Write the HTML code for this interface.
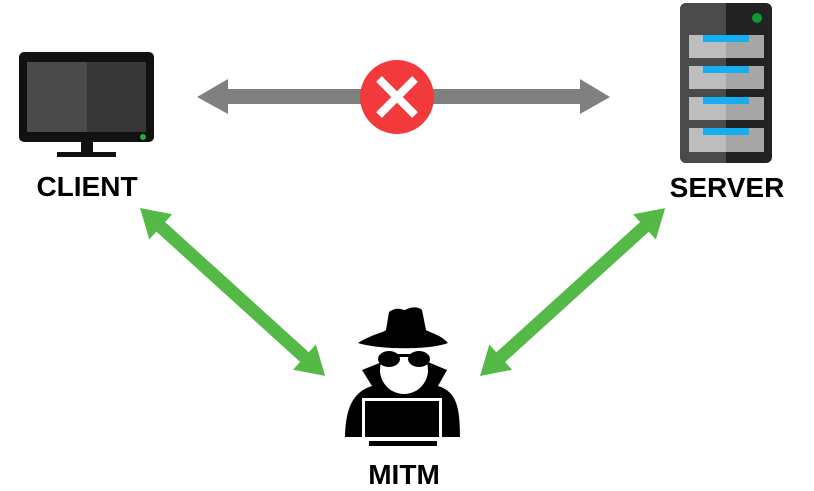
<!DOCTYPE html>
<html><head><meta charset="utf-8"><style>
html,body{margin:0;padding:0;background:#fff;width:814px;height:491px;overflow:hidden}
text{font-family:"Liberation Sans",Arial,sans-serif;font-weight:bold;fill:#000}
</style></head><body>
<svg width="814" height="491" viewBox="0 0 814 491" xmlns="http://www.w3.org/2000/svg">
<!-- monitor -->
<rect x="19" y="52" width="135" height="90" rx="5" fill="#111"/>
<rect x="27" y="62" width="60" height="70" fill="#4a4a4a"/>
<rect x="87" y="62" width="59" height="70" fill="#363636"/>
<rect x="81" y="142" width="12" height="11" fill="#111"/>
<rect x="57" y="152" width="59" height="5" fill="#111"/>
<circle cx="143" cy="137" r="3" fill="#1fae3e"/>
<text x="87" y="196" font-size="28" text-anchor="middle">CLIENT</text>
<!-- server -->
<rect x="680" y="3" width="92" height="160" rx="6" fill="#222"/>
<path d="M686 3 H726 V163 H686 A6 6 0 0 1 680 157 V9 A6 6 0 0 1 686 3Z" fill="#4b4b4b"/>
<circle cx="757" cy="18" r="5" fill="#0f9a2f"/>
<g>
<rect x="689" y="35" width="37" height="23" fill="#bdbdbd"/><rect x="726" y="35" width="38" height="23" fill="#a6a6a6"/><rect x="703" y="35" width="46" height="7" fill="#17aef0"/>
<rect x="689" y="66" width="37" height="23" fill="#bdbdbd"/><rect x="726" y="66" width="38" height="23" fill="#a6a6a6"/><rect x="703" y="66" width="46" height="7" fill="#17aef0"/>
<rect x="689" y="97" width="37" height="23" fill="#bdbdbd"/><rect x="726" y="97" width="38" height="23" fill="#a6a6a6"/><rect x="703" y="97" width="46" height="7" fill="#17aef0"/>
<rect x="689" y="128" width="37" height="24" fill="#bdbdbd"/><rect x="726" y="128" width="38" height="24" fill="#a6a6a6"/><rect x="703" y="128" width="46" height="7" fill="#17aef0"/>
</g>
<text x="727" y="197" font-size="28" text-anchor="middle">SERVER</text>
<!-- gray arrow -->
<polygon points="197,97 228,79 228,89 580,89 580,79 610,97 580,114 580,104 228,104 228,114" fill="#808080"/>
<circle cx="397" cy="97" r="37" fill="#f2393b"/>
<g stroke="#fff" stroke-width="8" stroke-linecap="butt">
<line x1="379" y1="79" x2="415" y2="115"/><line x1="415" y1="79" x2="379" y2="115"/>
</g>
<!-- green arrows -->
<g transform="translate(140,208) rotate(42.2)">
<polygon points="0,0 28,-17 28,-6.5 222,-6.5 222,-17 250,0 222,17 222,6.5 28,6.5 28,17" fill="#55b948"/>
</g>
<g transform="translate(480,376) rotate(-42.2)">
<polygon points="0,0 28,-17 28,-6.5 222,-6.5 222,-17 250,0 222,17 222,6.5 28,6.5 28,17" fill="#55b948"/>
</g>
<!-- MITM figure -->
<path d="M345 440 C345 410 352 392 372 386 L362 370 L382 362 L428 362 L447 370 L438 386 C458 392 460 410 460 440 Z" fill="#000"/>
<ellipse cx="404" cy="370" rx="24" ry="24" fill="#fff"/>
<ellipse cx="389" cy="359" rx="11" ry="8" fill="#000"/>
<ellipse cx="419" cy="359" rx="11" ry="8" fill="#000"/>
<rect x="395" y="354" width="18" height="3" fill="#000"/>
<path d="M358 343 C375 333 383 333 386 330 L389 312 C397 306 402 310 405 310 C410 307 418 306 422 310 L426 330 C430 333 440 334 448 343 C430 350 380 350 358 343Z" fill="#000"/>
<rect x="362" y="398" width="80" height="42" fill="#fff"/>
<rect x="365" y="401" width="74" height="39" fill="#000"/>
<rect x="345" y="437" width="115" height="4" fill="#fff"/>
<rect x="369" y="441" width="68" height="5" fill="#000"/>
<text x="404" y="484" font-size="28" text-anchor="middle">MITM</text>
</svg>
</body></html>
